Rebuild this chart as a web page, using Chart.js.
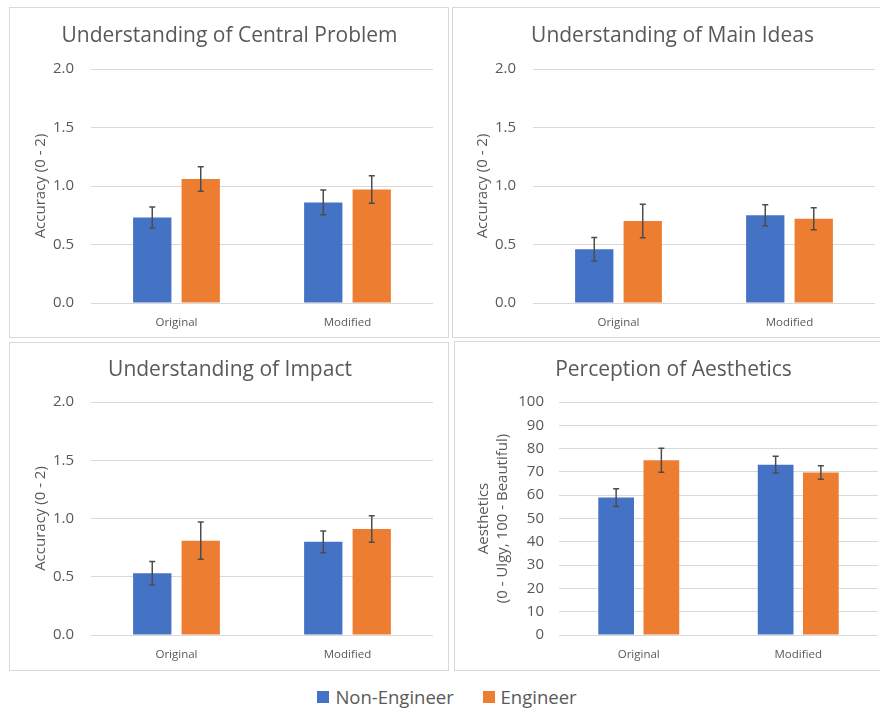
<!DOCTYPE html>
<html>
<head>
<meta charset="utf-8">
<script src="https://cdn.jsdelivr.net/npm/chart.js@4"></script>
<style>
  body { margin: 0; background: #fff; width: 880px; height: 708px; position: relative; overflow: hidden; font-family: "Open Sans", sans-serif; }
  .panel { position: absolute; box-sizing: border-box; border: 1px solid #d9d9d9; background: #fff; }
  .panel canvas { display: block; }
  #legend { position: absolute; left: 7px; top: 684px; width: 880px; text-align: center; font-size: 18.5px; color: #595959; }
  #legend span.key { display: inline-block; width: 12px; height: 12px; margin-right: 6px; vertical-align: 1px; }
  #legend span.item { margin: 0 12px; }
</style>
</head>
<body>
<div class="panel" style="left:9px;top:7px;width:440px;height:331px"><canvas id="c1"></canvas></div>
<div class="panel" style="left:452px;top:7px;width:430px;height:331px"><canvas id="c2"></canvas></div>
<div class="panel" style="left:9px;top:342px;width:440px;height:329px"><canvas id="c3"></canvas></div>
<div class="panel" style="left:454px;top:341px;width:428px;height:330px"><canvas id="c4"></canvas></div>
<div id="legend">
  <span class="item"><span class="key" style="background:#4472C4"></span>Non-Engineer</span>
  <span class="item"><span class="key" style="background:#ED7D31"></span>Engineer</span>
</div>
<script>
// data
const categories = ["Original", "Modified"];
const seriesNames = ["Non-Engineer", "Engineer"];

const centralNon = [0.73, 0.86];
const centralNonErr = [0.09, 0.105];
const centralEng = [1.06, 0.97];
const centralEngErr = [0.105, 0.117];

const ideasNon = [0.46, 0.75];
const ideasNonErr = [0.10, 0.09];
const ideasEng = [0.70, 0.72];
const ideasEngErr = [0.143, 0.094];

const impactNon = [0.53, 0.80];
const impactNonErr = [0.10, 0.093];
const impactEng = [0.81, 0.91];
const impactEngErr = [0.16, 0.114];

const aesthNon = [59, 73.1];
const aesthNonErr = [3.8, 3.6];
const aesthEng = [75, 69.7];
const aesthEngErr = [5.2, 2.9];

const accuracyTicks = [0, 0.5, 1.0, 1.5, 2.0];
const aesthTicks = [0, 10, 20, 30, 40, 50, 60, 70, 80, 90, 100];

const blue = "#4472C4";
const orange = "#ED7D31";
const textColor = "#595959";

// error bars drawn with the chart's own scales
const errorBars = {
  id: "errorBars",
  afterDatasetsDraw(chart) {
    const ctx = chart.ctx;
    const y = chart.scales.y;
    chart.data.datasets.forEach((ds, i) => {
      const meta = chart.getDatasetMeta(i);
      meta.data.forEach((bar, j) => {
        const v = ds.data[j], e = ds.errors[j];
        const top = y.getPixelForValue(v + e);
        const bot = y.getPixelForValue(v - e);
        ctx.save();
        ctx.strokeStyle = "#4d4d4d";
        ctx.lineWidth = 1.5;
        ctx.beginPath();
        ctx.moveTo(bar.x, top); ctx.lineTo(bar.x, bot);
        ctx.moveTo(bar.x - 3, top); ctx.lineTo(bar.x + 3, top);
        ctx.moveTo(bar.x - 3, bot); ctx.lineTo(bar.x + 3, bot);
        ctx.stroke();
        ctx.restore();
      });
    });
  }
};

function makeChart(id, title, non, nonErr, eng, engErr, ticks, yTitle, box) {
  const canvas = document.getElementById(id);
  const parent = canvas.parentNode;
  canvas.width = parent.clientWidth;
  canvas.height = parent.clientHeight;
  const decimals = ticks[1] < 1 ? 1 : 0;
  return new Chart(canvas, {
    type: "bar",
    data: {
      labels: categories,
      datasets: [
        { label: seriesNames[0], data: non, errors: nonErr, backgroundColor: blue,
          categoryPercentage: 0.567, barPercentage: 0.79 },
        { label: seriesNames[1], data: eng, errors: engErr, backgroundColor: orange,
          categoryPercentage: 0.567, barPercentage: 0.79 }
      ]
    },
    options: {
      responsive: false,
      animation: false,
      layout: { padding: { left: box.padL, right: box.padR, top: 0, bottom: 0 } },
      plugins: {
        legend: { display: false },
        tooltip: { enabled: false },
        title: {
          display: true,
          text: title,
          color: textColor,
          font: { family: "Open Sans", size: 21, weight: "normal", lineHeight: 1.2 },
          padding: { top: box.titleTop, bottom: box.plotTop - box.titleTop - 25.2 }
        }
      },
      scales: {
        x: {
          grid: { display: false },
          border: { display: false },
          ticks: { color: textColor, font: { family: "Open Sans", size: 11.5 }, padding: 5 },
          afterFit(s) { s.height = box.xHeight; }
        },
        y: {
          min: ticks[0],
          max: ticks[ticks.length - 1],
          afterBuildTicks(s) { s.ticks = ticks.map(v => ({ value: v })); },
          grid: { color: "#d9d9d9", lineWidth: 1, drawTicks: false },
          border: { display: false },
          ticks: {
            color: textColor,
            font: { family: "Open Sans", size: 15 },
            padding: box.tickPad,
            callback: v => Number(v).toFixed(decimals)
          },
          title: {
            display: true,
            text: yTitle,
            color: textColor,
            font: { family: "Open Sans", size: 15, lineHeight: 1.27 },
            padding: { top: box.axisTitlePad, bottom: 0 }
          },
          afterFit(s) { s.width = box.yWidth; }
        }
      }
    },
    plugins: [errorBars]
  });
}

makeChart("c1", "Understanding of Central Problem", centralNon, centralNonErr, centralEng, centralEngErr,
  accuracyTicks, "Accuracy (0 - 2)",
  { padL: 16, padR: 15, yWidth: 65, titleTop: 15, plotTop: 61, xHeight: 34, tickPad: 17, axisTitlePad: 5 });
makeChart("c2", "Understanding of Main Ideas", ideasNon, ideasNonErr, ideasEng, ideasEngErr,
  accuracyTicks, "Accuracy (0 - 2)",
  { padL: 17, padR: 6, yWidth: 63, titleTop: 15, plotTop: 61, xHeight: 34, tickPad: 17, axisTitlePad: 3 });
makeChart("c3", "Understanding of Impact", impactNon, impactNonErr, impactEng, impactEngErr,
  accuracyTicks, "Accuracy (0 - 2)",
  { padL: 17, padR: 15, yWidth: 64, titleTop: 14, plotTop: 59, xHeight: 35, tickPad: 17, axisTitlePad: 4 });
makeChart("c4", "Perception of Aesthetics", aesthNon, aesthNonErr, aesthEng, aesthEngErr,
  aesthTicks, ["Aesthetics", "(0 - Ulgy, 100 - Beautiful)"],
  { padL: 14, padR: 3, yWidth: 90, titleTop: 15, plotTop: 60, xHeight: 35, tickPad: 15, axisTitlePad: 5 });
</script>
</body>
</html>
